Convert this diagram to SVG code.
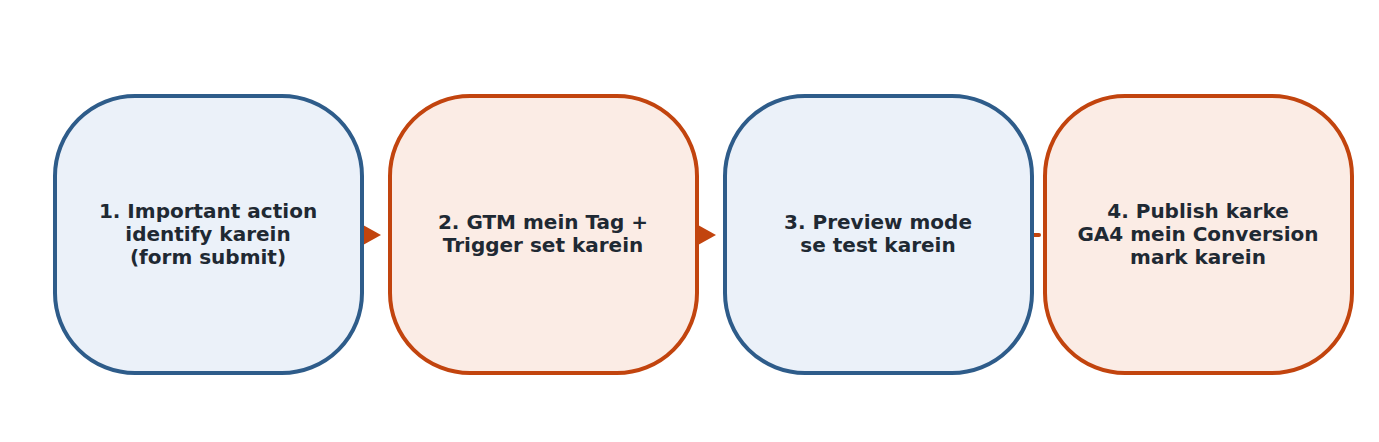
<svg xmlns="http://www.w3.org/2000/svg" width="1379" height="442" viewBox="0 0 1379 442">
<style>
.b{fill:#ebf1f9;stroke:#2e5c8a;stroke-width:4}
.o{fill:#fbece5;stroke:#c2440e;stroke-width:4}
text{font-family:"DejaVu Sans",sans-serif;font-weight:bold;font-size:20px;fill:#1f2933;text-anchor:middle}
</style>
<rect width="1379" height="442" fill="#fff"/>
<g id="connectors" fill="#c2440e" stroke="#c2440e">
<path d="M363 225 L381 235 L363 245 Z" stroke="none"/>
<path d="M698 225 L716 235 L698 245 Z" stroke="none"/>
<line x1="1033" y1="235" x2="1039" y2="235" stroke-width="4" stroke-linecap="round"/>
</g>
<g id="n1"><rect class="b" x="55" y="96" width="307" height="277" rx="80"/>
<text x="208" y="218">1. Important action</text><text x="208" y="241">identify karein</text><text x="208" y="264">(form submit)</text></g>
<g id="n2"><rect class="o" x="390" y="96" width="307" height="277" rx="80"/>
<text x="543" y="229">2. GTM mein Tag +</text><text x="543" y="252">Trigger set karein</text></g>
<g id="n3"><rect class="b" x="725" y="96" width="307" height="277" rx="80"/>
<text x="878" y="229">3. Preview mode</text><text x="878" y="252">se test karein</text></g>
<g id="n4"><rect class="o" x="1045" y="96" width="307" height="277" rx="80"/>
<text x="1198" y="218">4. Publish karke</text><text x="1198" y="241">GA4 mein Conversion</text><text x="1198" y="264">mark karein</text></g>
</svg>
